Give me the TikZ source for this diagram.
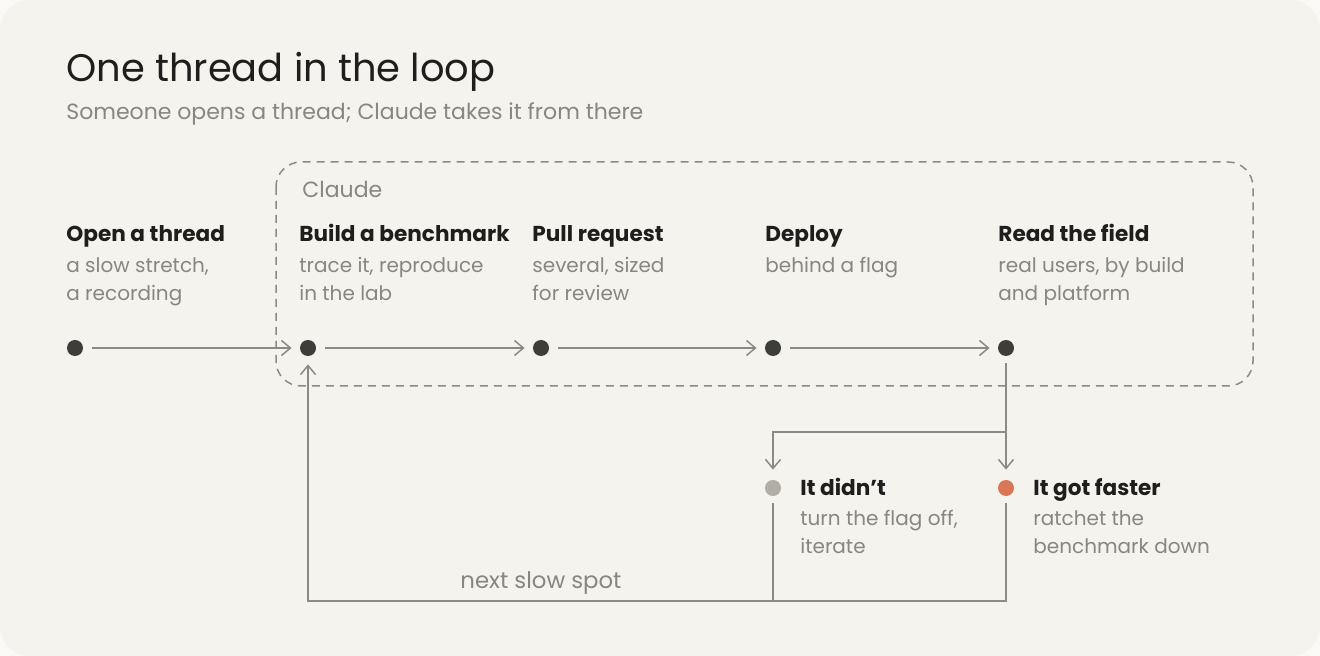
\documentclass[tikz,border=0pt]{standalone}
\usepackage{fontspec}
\setmainfont{Poppins}
\usetikzlibrary{arrows.meta}
\definecolor{outer}{HTML}{FAF9F5}
\definecolor{paper}{HTML}{F4F3EE}
\definecolor{ink}{HTML}{3D3D3A}
\definecolor{headink}{HTML}{1F1E1D}
\definecolor{soft}{HTML}{87867F}
\definecolor{wire}{HTML}{8C8A83}
\definecolor{stone}{HTML}{B0AEA5}
\definecolor{clay}{HTML}{D97757}
\begin{document}
\begin{tikzpicture}[x=0.5pt,y=-0.5pt,
  dot/.style={circle, fill=ink, inner sep=0pt, minimum size=8pt},
  flow/.style={draw=wire, line width=0.75pt, -{Straight Barb[length=4.5pt,width=7.5pt]}, shorten <=4.5pt, shorten >=4pt},
  wireline/.style={draw=wire, line width=0.75pt},
  heading/.style={anchor=base west, inner sep=0pt, text=headink, font=\fontsize{10.8pt}{14pt}\selectfont\bfseries},
  note/.style={anchor=base west, inner sep=0pt, text=soft, align=left, font=\fontsize{10pt}{14pt}\selectfont}]
% paper
\fill[outer] (0,0) rectangle (1320,656);
\fill[paper, rounded corners=15pt] (0,0) rectangle (1320,656);
% title
\node[anchor=base west, inner sep=0pt, text=headink, font=\fontsize{19.2pt}{23pt}\selectfont] (title) at (66,82) {One thread in the loop};
\node[anchor=base west, inner sep=0pt, text=soft, font=\fontsize{11pt}{14pt}\selectfont] (subtitle) at (66,120) {Someone opens a thread; Claude takes it from there};
% Claude box
\draw[wire, line width=0.75pt, dash pattern=on 4pt off 3pt, rounded corners=12.5pt] (276,162) rectangle (1253,386);
\node[anchor=base west, inner sep=0pt, text=soft, font=\fontsize{11pt}{14pt}\selectfont] (claude) at (302,198) {Claude};
% steps (two-line notes sit on their last baseline)
\node[heading] (h1) at (66,242) {Open a thread};
\node[note] (n1) at (66,301) {a slow stretch,\\a recording};
\node[heading] (h2) at (299,242) {Build a benchmark};
\node[note] (n2) at (299,301) {trace it, reproduce\\in the lab};
\node[heading] (h3) at (532,242) {Pull request};
\node[note] (n3) at (532,301) {several, sized\\for review};
\node[heading] (h4) at (765,242) {Deploy};
\node[note] (n4) at (765,273) {behind a flag};
\node[heading] (h5) at (998,242) {Read the field};
\node[note] (n5) at (998,301) {real users, by build\\and platform};
\node[dot] (open) at (75,348) {};
\node[dot] (bench) at (308,348) {};
\node[dot] (pull) at (541,348) {};
\node[dot] (deploy) at (773,348) {};
\node[dot] (read) at (1006,348) {};
\draw[flow] (open) -- (bench);
\draw[flow] (bench) -- (pull);
\draw[flow] (pull) -- (deploy);
\draw[flow] (deploy) -- (read);
% outcomes
\node[dot, fill=stone] (didnt) at (773,488) {};
\node[dot, fill=clay] (faster) at (1006,488) {};
\node[heading] (h6) at (800,495) {It didn’t};
\node[note] (n6) at (800,553) {turn the flag off,\\iterate};
\node[heading] (h7) at (1033,495) {It got faster};
\node[note] (n7) at (1033,553) {ratchet the\\benchmark down};
\coordinate (branch) at (1006,432);
\coordinate (back) at (308,601);
\draw[flow, shorten <=3.5pt, shorten >=5pt] (read) -- (faster);
\draw[flow, shorten <=0pt, shorten >=5pt] (branch) -| (didnt);
\draw[wireline, shorten <=3.5pt] (didnt) -- (didnt |- back);
\draw[flow, shorten <=3.5pt] (faster) |- (back) -- (bench);
\node[anchor=base west, inner sep=0pt, text=soft, font=\fontsize{11.4pt}{14pt}\selectfont] (nextspot) at (460,588) {next slow spot};
\end{tikzpicture}
\end{document}
